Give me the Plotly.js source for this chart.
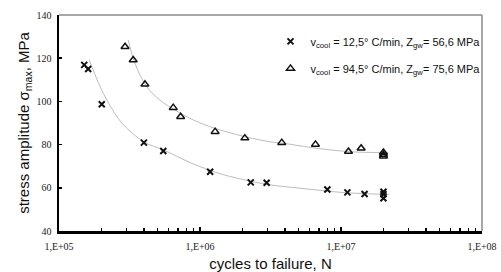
<!DOCTYPE html>
<html><head><meta charset="utf-8">
<script src="https://cdn.plot.ly/plotly-3.0.1.min.js"></script>
<style>html,body{margin:0;padding:0;background:#fff}#chart{width:501px;height:272px}</style>
</head><body><div id="chart"></div>
<script>
// Series 1: v_cool = 12.5 °C/min (x markers)
const n1 = [1.51e5, 1.61e5, 2.01e5, 4.0e5, 5.49e5, 1.18e6, 2.29e6, 2.97e6, 8.0e6, 1.11e7, 1.47e7, 2.0e7, 2.0e7, 2.0e7];
const s1 = [116.9, 115.0, 98.7, 80.9, 77.0, 67.4, 62.5, 62.3, 59.2, 57.9, 57.1, 58.2, 57.0, 55.2];
// Series 2: v_cool = 94.5 °C/min (triangles)
const n2 = [2.94e5, 3.36e5, 4.07e5, 6.46e5, 7.29e5, 1.28e6, 2.08e6, 3.80e6, 6.59e6, 1.13e7, 1.39e7, 2.0e7, 2.0e7, 2.0e7];
const s2 = [125.3, 119.2, 107.9, 97.1, 92.9, 86.0, 83.0, 80.9, 80.1, 76.8, 78.3, 76.4, 75.4, 74.6];
// Trend curves
const c1n = [1.64e5, 1.91e5, 2.25e5, 2.80e5, 3.99e5, 5.53e5, 8.78e5, 1.36e6, 1.72e6, 2.97e6, 5.12e6, 8.82e6, 1.16e7, 2.19e7];
const c1s = [119.2, 108.4, 99.1, 89.9, 81.3, 77.5, 71.3, 66.7, 64.9, 61.6, 59.8, 58.2, 57.6, 56.9];
const c2n = [3.10e5, 3.46e5, 4.19e5, 5.20e5, 6.65e5, 8.96e5, 1.28e6, 2.08e6, 3.13e6, 3.90e6, 6.72e6, 1.16e7, 2.15e7];
const c2s = [128.4, 117.6, 106.8, 100.6, 96.0, 91.4, 87.5, 83.7, 81.3, 80.6, 78.3, 76.7, 76.3];
const xTickVals = [1e5, 1e6, 1e7, 1e8];
const xTickText = ['1,E+05', '1,E+06', '1,E+07', '1,E+08'];
const yTickVals = [40, 60, 80, 100, 120, 140];
const names = ['v<sub>cool</sub> = 12,5° C/min, Z<sub>gw</sub>= 56,6 MPa',
               'v<sub>cool</sub> = 94,5° C/min, Z<sub>gw</sub>= 75,6 MPa'];

const traces = [
  {x: c1n, y: c1s, mode: 'lines', line: {color: '#bdbdbd', width: 1, shape: 'spline'}, showlegend: false, hoverinfo: 'skip'},
  {x: c2n, y: c2s, mode: 'lines', line: {color: '#bdbdbd', width: 1, shape: 'spline'}, showlegend: false, hoverinfo: 'skip'},
  {x: n1, y: s1, mode: 'markers', name: names[0], legendgroup: 'a',
   marker: {symbol: 'x-thin-open', size: 6, color: '#111', line: {width: 2, color: '#111'}}},
  {x: n2, y: s2, mode: 'markers', name: names[1], legendgroup: 'b',
   marker: {symbol: 'triangle-up-open', size: 7, color: '#111', line: {width: 1.5, color: '#111'}}}
];

const layout = {
  width: 501, height: 272,
  margin: {l: 59, r: 19, t: 15, b: 41},
  paper_bgcolor: '#fff', plot_bgcolor: '#fff',
  showlegend: true,
  legend: {x: 0.50, y: 0.945, xanchor: 'left', yanchor: 'top', bgcolor: 'rgba(0,0,0,0)',
           font: {family: 'Liberation Sans, Arial, sans-serif', size: 11, color: '#111'},
           traceorder: 'grouped', tracegroupgap: 8},
  xaxis: {type: 'log', range: [5, 8], tickvals: xTickVals, ticktext: xTickText,
          showgrid: false, zeroline: false, showline: true, linecolor: '#000', linewidth: 2.5,
          ticks: 'inside', ticklen: 4, tickwidth: 1.5, tickcolor: '#000',
          minor: {ticks: 'inside', ticklen: 3, tickwidth: 1.5, tickcolor: '#000', dtick: 'D1', showgrid: false},
          ticklabelstandoff: 4,
          tickfont: {family: 'Liberation Serif, Times New Roman, serif', size: 10, color: '#222'},
          title: {text: 'cycles to failure, N', font: {family: 'Liberation Sans, Arial, sans-serif', size: 15, color: '#111'}, standoff: 10}},
  yaxis: {range: [40, 140], tickvals: yTickVals,
          showgrid: false, zeroline: false, showline: true, linecolor: '#000', linewidth: 2.5,
          ticks: 'inside', ticklen: 3, tickwidth: 1.5, tickcolor: '#000',
          ticklabelstandoff: 3,
          tickfont: {family: 'Liberation Serif, Times New Roman, serif', size: 10, color: '#222'},
          title: {text: 'stress amplitude σ<sub>max</sub>, MPa', font: {family: 'Liberation Sans, Arial, sans-serif', size: 15, color: '#111'}, standoff: 4}},
  shapes: [
    {type: 'line', xref: 'paper', yref: 'paper', x0: 0, x1: 1, y0: 1, y1: 1, line: {color: '#8a8a8a', width: 1.5}},
    {type: 'line', xref: 'paper', yref: 'paper', x0: 1, x1: 1, y0: 0, y1: 1, line: {color: '#8a8a8a', width: 1.5}}
  ]
};
Plotly.newPlot('chart', traces, layout, {displayModeBar: false, staticPlot: true});
</script></body></html>
